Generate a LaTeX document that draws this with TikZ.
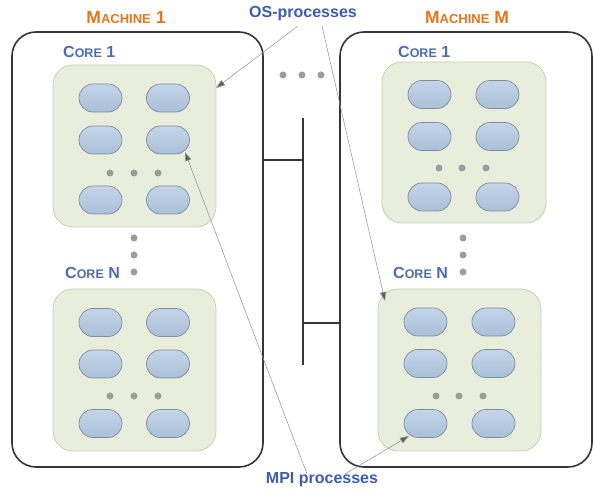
\documentclass[tikz,border=0pt]{standalone}
\usepackage{fontspec}
\setmainfont{Liberation Sans}
\usetikzlibrary{arrows.meta}
\definecolor{orangeT}{HTML}{E2761F}
\definecolor{blueC}{HTML}{4E6CAE}
\definecolor{blueL}{HTML}{3D5CB2}
\definecolor{coreFill}{HTML}{E9EDDC}
\definecolor{coreDraw}{HTML}{C9CFB3}
\definecolor{procTop}{HTML}{C4D5E8}
\definecolor{procBot}{HTML}{A9C0D8}
\definecolor{procDraw}{HTML}{7A8CA3}
\definecolor{dotC}{HTML}{9C9C9C}
\definecolor{frameC}{HTML}{353535}
\definecolor{arrC}{HTML}{8E8E8E}
\definecolor{tipC}{HTML}{5C6352}
\newcommand{\mbig}{\fontsize{17.5pt}{18pt}\selectfont}
\newcommand{\msmall}{\fontsize{13pt}{14pt}\selectfont}
\newcommand{\cbig}{\fontsize{16pt}{17pt}\selectfont}
\newcommand{\csmall}{\fontsize{12.5pt}{13pt}\selectfont}
\tikzset{
  machinebox/.style={draw=frameC, line width=1.6pt, rounded corners=24pt, fill=white, inner sep=0pt},
  corebox/.style={draw=coreDraw, line width=0.8pt, fill=coreFill, rounded corners=20pt, minimum width=163pt, minimum height=162pt, inner sep=0pt},
  proc/.style={draw=procDraw, line width=0.7pt, top color=procTop, bottom color=procBot, rounded corners=13.9pt, minimum width=43pt, minimum height=28pt, inner sep=0pt},
  pdot/.style={circle, fill=dotC, minimum size=7pt, inner sep=0pt},
  mtitle/.style={text=orangeT, font=\bfseries, inner sep=0pt},
  ctitle/.style={text=blueC, font=\bfseries, inner sep=0pt, anchor=west},
  ltitle/.style={text=blueL, font=\bfseries\fontsize{16pt}{17pt}\selectfont, inner sep=0pt},
  bus/.style={draw=frameC, line width=2.8pt},
  pointer/.style={draw=arrC, line width=0.5pt, -{Triangle[length=9pt,width=6pt,fill=tipC]}}
}
\begin{document}
\begin{tikzpicture}[x=1pt,y=-1pt]
\useasboundingbox[fill=white] (0,0) rectangle (595,494);
% machines
\node[machinebox, minimum width=251pt, minimum height=435pt] (m1) at (137.5,249.5) {};
\node[machinebox, minimum width=252pt, minimum height=435pt] (mM) at (466,249.5) {};
\node[mtitle] (t1) at (126,18) {{\mbig M}{\msmall ACHINE}{\mbig\ 1}};
\node[mtitle] (tM) at (467,18) {{\mbig M}{\msmall ACHINE}{\mbig\ M}};
% core boxes
\node[corebox] (a1) at (134.5,146) {};
\node[corebox] (aN) at (134.5,370) {};
\node[corebox, minimum width=164pt, minimum height=161pt] (b1) at (464,142.5) {};
\node[corebox] (bN) at (459.5,370) {};
% core labels
\node[ctitle] (la1) at (63,52) {{\cbig C}{\csmall ORE}{\cbig\ 1}};
\node[ctitle] (laN) at (65,273) {{\cbig C}{\csmall ORE}{\cbig\ N}};
\node[ctitle] (lb1) at (398,52) {{\cbig C}{\csmall ORE}{\cbig\ 1}};
\node[ctitle] (lbN) at (393,273) {{\cbig C}{\csmall ORE}{\cbig\ N}};
% processes machine 1 core 1
\node[proc] (a1p11) at (100.5,98) {};
\node[proc] (a1p12) at (168,98) {};
\node[proc] (a1p21) at (100.5,140) {};
\node[proc] (a1p22) at (168,140) {};
\node[proc] (a1p31) at (100.5,200) {};
\node[proc] (a1p32) at (168,200) {};
\node[pdot] (a1d1) at (110,173) {};
\node[pdot] (a1d2) at (134,173) {};
\node[pdot] (a1d3) at (158,173) {};
% machine 1 core N
\node[proc] (aNp11) at (100.5,322.5) {};
\node[proc] (aNp12) at (168,322.5) {};
\node[proc] (aNp21) at (100.5,364) {};
\node[proc] (aNp22) at (168,364) {};
\node[proc] (aNp31) at (100.5,423.5) {};
\node[proc] (aNp32) at (168,423.5) {};
\node[pdot] (aNd1) at (110,396) {};
\node[pdot] (aNd2) at (134,396) {};
\node[pdot] (aNd3) at (158,396) {};
% machine M core 1
\node[proc] (b1p11) at (429.5,94.5) {};
\node[proc] (b1p12) at (497.5,94.5) {};
\node[proc] (b1p21) at (429.5,136.5) {};
\node[proc] (b1p22) at (497.5,136.5) {};
\node[proc] (b1p31) at (429.5,197) {};
\node[proc] (b1p32) at (497.5,197) {};
\node[pdot] (b1d1) at (439,168) {};
\node[pdot] (b1d2) at (462,168) {};
\node[pdot] (b1d3) at (486,168) {};
% machine M core N
\node[proc] (bNp11) at (425.5,322) {};
\node[proc] (bNp12) at (493.5,322) {};
\node[proc] (bNp21) at (425.5,363.5) {};
\node[proc] (bNp22) at (493.5,363.5) {};
\node[proc] (bNp31) at (425.5,423.5) {};
\node[proc] (bNp32) at (493.5,423.5) {};
\node[pdot] (bNd1) at (436,396) {};
\node[pdot] (bNd2) at (459,396) {};
\node[pdot] (bNd3) at (483,396) {};
% vertical dots between cores
\node[pdot] (av1) at (134,238) {};
\node[pdot] (av2) at (134,255) {};
\node[pdot] (av3) at (134,272) {};
\node[pdot] (bv1) at (463,238) {};
\node[pdot] (bv2) at (463,255) {};
\node[pdot] (bv3) at (463,272) {};
% machines dots
\node[pdot] (md1) at (283,75) {};
\node[pdot] (md2) at (302,75) {};
\node[pdot] (md3) at (321,75) {};
% network bus
\coordinate (bustop) at (303,118);
\coordinate (busbot) at (303,365);
\coordinate (j1) at (303,160);
\coordinate (j2) at (303,323);
\draw[bus] (bustop) -- (busbot);
\draw[bus] (m1.east |- j1) -- (j1);
\draw[bus] (j2) -- (mM.west |- j2);
% labels
\node[ltitle] (os) at (303,14) {OS-processes};
\node[ltitle] (mpi) at (322,480) {MPI processes};
% pointers
\coordinate (os1) at (298,26);
\coordinate (os2) at (322,26);
\coordinate (osA) at (216,88);
\coordinate (osB) at (385,301);
\coordinate (mp1) at (307,474);
\coordinate (mp2) at (345,474);
\coordinate (mpA) at (185,152);
\coordinate (mpB) at (409,436);
\draw[pointer] (os1) -- (osA);
\draw[pointer] (os2) -- (osB);
\draw[pointer] (mp1) -- (mpA);
\draw[pointer] (mp2) -- (mpB);
\end{tikzpicture}
\end{document}
